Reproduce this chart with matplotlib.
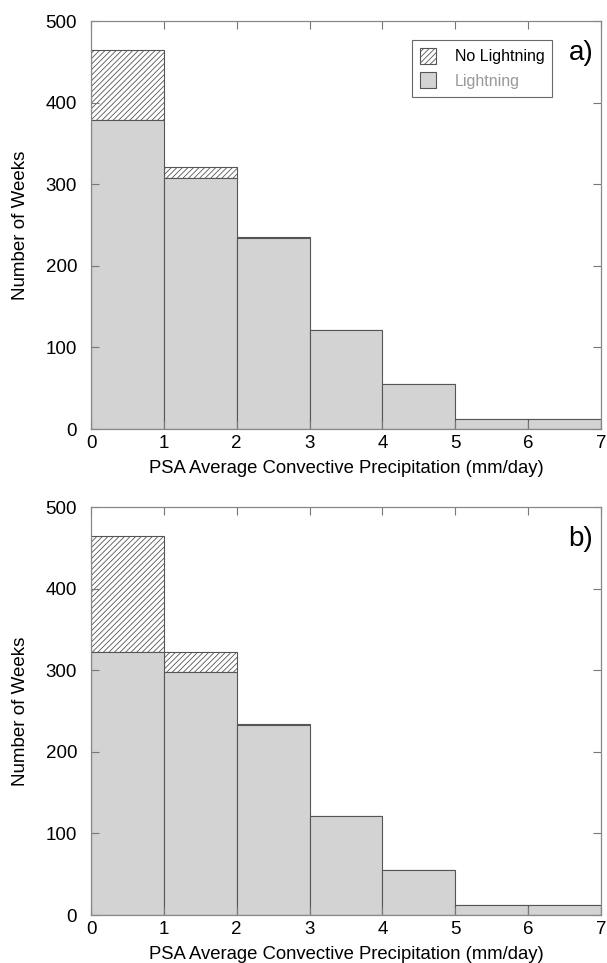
import matplotlib
matplotlib.use("Agg")
import matplotlib.pyplot as plt
import numpy as np

plt.rcParams['font.family'] = ['Liberation Sans', 'DejaVu Sans']
plt.rcParams['hatch.color'] = '#777777'
plt.rcParams['hatch.linewidth'] = 0.6

bin_left = [0, 1, 2, 3, 4, 5, 6]
total_a = [465, 321, 235, 122, 55, 12, 12]
light_a = [379, 308, 234, 122, 55, 12, 12]
total_b = [465, 322, 234, 122, 55, 12, 12]
light_b = [322, 298, 233, 122, 55, 12, 12]
xticks = [0, 1, 2, 3, 4, 5, 6, 7]
yticks = [0, 100, 200, 300, 400, 500]

fig = plt.figure(figsize=(6.07, 9.63), dpi=100)
axA = fig.add_axes([0.150, 0.5545, 0.840, 0.4235])
axB = fig.add_axes([0.150, 0.0498, 0.840, 0.4235])

edge = '#555555'
fill = '#d3d3d3'
for ax, tot, lig, lab in [(axA, total_a, light_a, 'a)'), (axB, total_b, light_b, 'b)')]:
    tot = np.array(tot); lig = np.array(lig)
    ax.bar(bin_left, tot - lig, bottom=lig, width=1.0, align='edge',
           facecolor='white', edgecolor=edge, hatch='//////', linewidth=0.8,
           label='No Lightning')
    ax.bar(bin_left, lig, width=1.0, align='edge', facecolor=fill,
           edgecolor=edge, linewidth=0.8, label='Lightning')
    ax.set_xlim(0, 7)
    ax.set_ylim(0, 500)
    ax.set_xticks(xticks)
    ax.set_yticks(yticks)
    ax.tick_params(direction='in', top=True, right=True, length=6, width=0.8,
                   color='#777777', labelsize=13.5)
    ax.tick_params(axis='y', pad=10)
    ax.tick_params(axis='x', pad=4)
    for s in ax.spines.values():
        s.set_color('#888888')
        s.set_linewidth(0.9)
    ax.set_xlabel('PSA Average Convective Precipitation (mm/day)', fontsize=13.3, labelpad=6)
    ax.set_ylabel('Number of Weeks', fontsize=13.5, labelpad=12)
    ax.text(0.985, 0.955, lab, transform=ax.transAxes, ha='right', va='top', fontsize=20)

leg = axA.legend(loc='upper right', bbox_to_anchor=(0.905, 0.955), fontsize=11.5,
                 frameon=True, fancybox=False, edgecolor='#444444',
                 handlelength=1.0, handleheight=1.2, borderpad=0.5,
                 handletextpad=1.2, borderaxespad=0)
leg.get_frame().set_linewidth(0.8)
leg.get_texts()[1].set_color('#999999')

fig.savefig('out.png', dpi=100)
